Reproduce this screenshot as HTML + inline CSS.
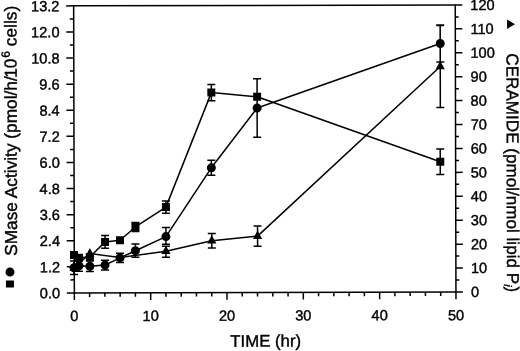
<!DOCTYPE html>
<html><head><meta charset="utf-8"><title>Figure</title>
<style>html,body{margin:0;padding:0;background:#fff}svg{display:block}text{font-family:"Liberation Sans",Arial,Helvetica,sans-serif;fill:#000;stroke:#000;stroke-width:0.4px;stroke-linejoin:round}</style></head><body>
<svg width="520" height="351" viewBox="0 0 520 351">
<rect width="520" height="351" fill="#fff"/>
<g transform="rotate(-0.14 264.8 148.85)">
<g stroke="#000" stroke-width="1.50" fill="none" stroke-linecap="butt">
<path d="M74.00 5.40 V292.45 H455.60 V5.40 Z"/>
<path d="M74.00 292.45h-7.50M74.00 279.40h-3.90M74.00 266.35h-7.50M74.00 253.31h-3.90M74.00 240.26h-7.50M74.00 227.21h-3.90M74.00 214.16h-7.50M74.00 201.12h-3.90M74.00 188.07h-7.50M74.00 175.02h-3.90M74.00 161.97h-7.50M74.00 148.92h-3.90M74.00 135.88h-7.50M74.00 122.83h-3.90M74.00 109.78h-7.50M74.00 96.73h-3.90M74.00 83.69h-7.50M74.00 70.64h-3.90M74.00 57.59h-7.50M74.00 44.54h-3.90M74.00 31.50h-7.50M74.00 18.45h-3.90M74.00 5.40h-7.50M455.60 292.45h7.00M455.60 280.49h3.40M455.60 268.53h7.00M455.60 256.57h3.40M455.60 244.61h7.00M455.60 232.65h3.40M455.60 220.69h7.00M455.60 208.73h3.40M455.60 196.77h7.00M455.60 184.81h3.40M455.60 172.85h7.00M455.60 160.89h3.40M455.60 148.92h7.00M455.60 136.96h3.40M455.60 125.00h7.00M455.60 113.04h3.40M455.60 101.08h7.00M455.60 89.12h3.40M455.60 77.16h7.00M455.60 65.20h3.40M455.60 53.24h7.00M455.60 41.28h3.40M455.60 29.32h7.00M455.60 17.36h3.40M455.60 5.40h7.00M74.00 292.45v7.20M89.26 292.45v4.00M104.53 292.45v4.00M119.79 292.45v4.00M135.06 292.45v4.00M150.32 292.45v7.20M165.58 292.45v4.00M180.85 292.45v4.00M196.11 292.45v4.00M211.38 292.45v4.00M226.64 292.45v7.20M241.90 292.45v4.00M257.17 292.45v4.00M272.43 292.45v4.00M287.70 292.45v4.00M302.96 292.45v7.20M318.22 292.45v4.00M333.49 292.45v4.00M348.75 292.45v4.00M364.02 292.45v4.00M379.28 292.45v7.20M394.54 292.45v4.00M409.81 292.45v4.00M425.07 292.45v4.00M440.34 292.45v4.00M455.60 292.45v7.20"/>
</g>
<g font-size="14.6px">
<text x="59.8" y="297.75" text-anchor="end">0.0</text>
<text x="59.8" y="271.65" text-anchor="end">1.2</text>
<text x="59.8" y="245.56" text-anchor="end">2.4</text>
<text x="59.8" y="219.46" text-anchor="end">3.6</text>
<text x="59.8" y="193.37" text-anchor="end">4.8</text>
<text x="59.8" y="167.27" text-anchor="end">6.0</text>
<text x="59.8" y="141.18" text-anchor="end">7.2</text>
<text x="59.8" y="115.08" text-anchor="end">8.4</text>
<text x="59.8" y="88.99" text-anchor="end">9.6</text>
<text x="59.8" y="62.89" text-anchor="end">10.8</text>
<text x="59.8" y="36.80" text-anchor="end">12.0</text>
<text x="59.8" y="10.70" text-anchor="end">13.2</text>
<text x="470.7" y="297.55">0</text>
<text x="470.7" y="273.63">10</text>
<text x="470.7" y="249.71">20</text>
<text x="470.7" y="225.79">30</text>
<text x="470.7" y="201.87">40</text>
<text x="470.7" y="177.95">50</text>
<text x="470.7" y="154.02">60</text>
<text x="470.7" y="130.10">70</text>
<text x="470.7" y="106.18">80</text>
<text x="470.7" y="82.26">90</text>
<text x="470.7" y="58.34">100</text>
<text x="470.7" y="34.42">110</text>
<text x="470.7" y="10.50">120</text>
<text x="74.00" y="320.6" text-anchor="middle">0</text>
<text x="150.32" y="320.6" text-anchor="middle">10</text>
<text x="226.64" y="320.6" text-anchor="middle">20</text>
<text x="302.96" y="320.6" text-anchor="middle">30</text>
<text x="379.28" y="320.6" text-anchor="middle">40</text>
<text x="455.60" y="320.6" text-anchor="middle">50</text>
</g>
<text x="265.2" y="346.6" font-size="16.8px" text-anchor="middle">TIME (hr)</text>
<text transform="translate(16.8 255.2) rotate(-90)" font-size="17.3px">SMase Activity (pmol/h/<tspan dx="-1.6">10</tspan><tspan font-size="12px" dy="-6.8" dx="0.9">6</tspan><tspan dy="6.8" dx="0"> cells)</tspan></text>
<text transform="translate(506.7 53.9) rotate(90)" font-size="17.1px">CERAMIDE (pmol/nmol lipid P<tspan font-size="11px" font-style="italic" dy="3">i</tspan><tspan dy="-3">)</tspan></text>
<circle cx="9.7" cy="271.5" r="4.5"/>
<rect x="5.6" y="279.8" width="8" height="7"/>
<path d="M507.4 20.1 L515.3 24.8 L507.4 29.5 Z"/>
<g stroke="#000" stroke-width="1.5" fill="none" stroke-linejoin="round">
<polyline points="73.71,267.33 78.67,265.25 89.58,265.87 104.77,264.71 119.74,257.55 135.17,250.38 165.73,236.36 211.29,167.67 257.22,107.98 440.50,43.93"/>
<polyline points="73.74,254.53 78.69,257.35 89.61,256.57 104.83,241.51 119.79,239.85 135.23,226.68 165.80,206.86 211.48,92.47 257.25,96.78 440.21,162.13"/>
<polyline points="73.71,267.53 89.61,253.17 119.74,257.25 165.69,250.96 211.57,240.57 257.36,236.08 440.44,66.93"/>
<path d="M73.71 260.53V274.13M69.71 260.53h8M69.71 274.13h8M78.67 259.75V270.75M74.67 259.75h8M74.67 270.75h8M89.58 260.67V271.07M85.58 260.67h8M85.58 271.07h8M104.77 259.91V269.51M100.77 259.91h8M100.77 269.51h8M119.74 252.85V262.25M115.74 252.85h8M115.74 262.25h8M135.17 243.78V256.98M131.17 243.78h8M131.17 256.98h8M165.73 227.26V244.06M161.73 227.26h8M161.73 244.06h8M211.29 160.17V175.17M207.29 160.17h8M207.29 175.17h8M257.22 78.78V137.18M253.22 78.78h8M253.22 137.18h8M440.50 25.53V62.33M436.50 25.53h8M436.50 62.33h8M104.83 235.11V247.91M100.83 235.11h8M100.83 247.91h8M135.23 222.28V231.08M131.23 222.28h8M131.23 231.08h8M165.80 200.76V212.96M161.80 200.76h8M161.80 212.96h8M211.48 84.27V100.67M207.48 84.27h8M207.48 100.67h8M440.21 149.33V174.93M436.21 149.33h8M436.21 174.93h8M165.69 245.96V256.96M161.69 245.96h8M161.69 256.96h8M211.57 233.37V247.77M207.57 233.37h8M207.57 247.77h8M257.36 225.88V246.28M253.36 225.88h8M253.36 246.28h8M440.44 25.93V107.93M436.44 25.93h8M436.44 107.93h8"/>
</g>
<g fill="#000">
<rect x="69.74" y="250.53" width="8" height="8"/>
<rect x="74.69" y="253.35" width="8" height="8"/>
<rect x="85.61" y="252.57" width="8" height="8"/>
<rect x="100.83" y="237.51" width="8" height="8"/>
<rect x="115.79" y="235.85" width="8" height="8"/>
<rect x="131.23" y="222.68" width="8" height="8"/>
<rect x="161.80" y="202.86" width="8" height="8"/>
<rect x="207.48" y="88.47" width="8" height="8"/>
<rect x="253.25" y="92.78" width="8" height="8"/>
<rect x="436.21" y="158.13" width="8" height="8"/>
<path d="M73.71 262.03L78.31 270.33L69.11 270.33Z"/>
<path d="M89.61 247.67L94.21 255.97L85.01 255.97Z"/>
<path d="M165.69 245.46L170.29 253.76L161.09 253.76Z"/>
<path d="M211.57 235.07L216.17 243.37L206.97 243.37Z"/>
<path d="M257.36 230.58L261.96 238.88L252.76 238.88Z"/>
<path d="M440.44 61.43L445.04 69.73L435.84 69.73Z"/>
<circle cx="73.71" cy="267.33" r="4.5"/>
<circle cx="78.67" cy="265.25" r="4.5"/>
<circle cx="89.58" cy="265.87" r="4.5"/>
<circle cx="104.77" cy="264.71" r="4.5"/>
<circle cx="119.74" cy="257.55" r="4.5"/>
<circle cx="135.17" cy="250.38" r="4.5"/>
<circle cx="165.73" cy="236.36" r="4.5"/>
<circle cx="211.29" cy="167.67" r="4.5"/>
<circle cx="257.22" cy="107.98" r="4.5"/>
<circle cx="440.50" cy="43.93" r="4.5"/>
</g>
</g>
</svg></body></html>
